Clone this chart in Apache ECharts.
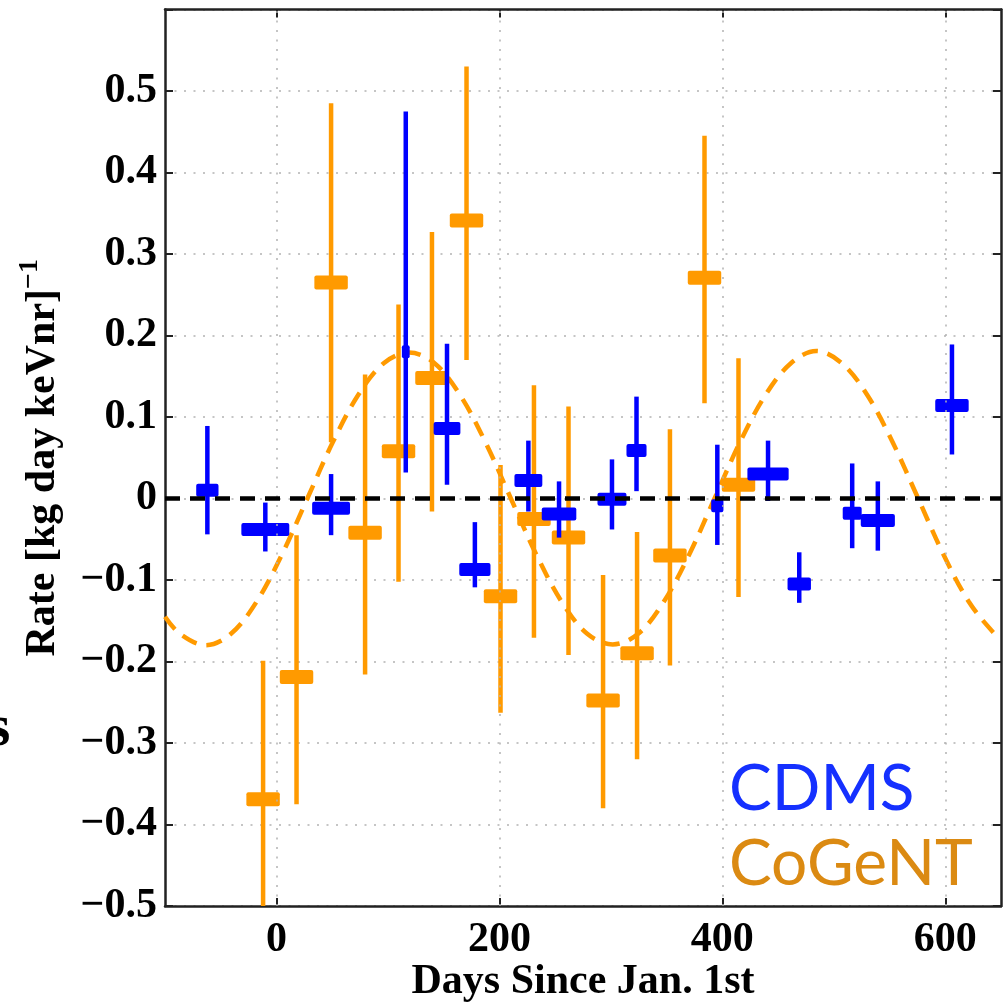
<!DOCTYPE html>
<html>
<head>
<meta charset="utf-8">
<script src="https://cdn.jsdelivr.net/npm/echarts@6/dist/echarts.min.js"></script>
<style>
html,body{margin:0;padding:0;background:#fff;}
#chart{width:1003px;height:1005px;}
</style>
</head>
<body>
<div id="chart"></div>
<script>
// ---- data ----
// CDMS (blue): bin centre (days), rate, lower/upper error, half bin width (days)
const cdmsDays    = [-62, -10, 49, 116, 153, 178, 226, 253.5, 301, 323, 395.5, 441, 469, 516.5, 539.5, 606];
const cdmsRate    = [0.010, -0.038, -0.012, 0.180, 0.086, -0.087, 0.022, -0.019, -0.001, 0.059, -0.009, 0.030, -0.105, -0.018, -0.027, 0.114];
const cdmsLow     = [-0.044, -0.065, -0.045, 0.032, 0.017, -0.109, -0.016, -0.048, -0.038, 0.009, -0.057, -0.003, -0.128, -0.061, -0.064, 0.054];
const cdmsHigh    = [0.089, -0.005, 0.030, 0.475, 0.190, -0.029, 0.071, 0.021, 0.048, 0.125, 0.066, 0.071, -0.066, 0.043, 0.021, 0.189];
const cdmsHalfBin = [10, 21.5, 17, 3.5, 12, 14, 12.5, 15.5, 13, 9, 5.5, 18.5, 10.5, 8.5, 15.3, 15];

// CoGeNT (orange)
const cogentDays    = [-12, 18, 49, 79.5, 109.5, 139.5, 170.5, 201, 231, 262, 293, 323.5, 353, 384, 414.5];
const cogentRate    = [-0.369, -0.219, 0.265, -0.042, 0.058, 0.148, 0.341, -0.120, -0.025, -0.048, -0.248, -0.190, -0.070, 0.271, 0.017];
const cogentLow     = [-0.500, -0.375, 0.069, -0.216, -0.102, -0.016, 0.170, -0.263, -0.171, -0.192, -0.380, -0.320, -0.205, 0.117, -0.121];
const cogentHigh    = [-0.199, -0.045, 0.485, 0.152, 0.238, 0.327, 0.530, 0.041, 0.139, 0.113, -0.094, -0.041, 0.085, 0.445, 0.172];
const cogentHalfBin = [15, 15, 15, 15, 15, 15, 15, 15, 15, 15, 15, 15, 15, 15, 15];

// dashed modulation curve
const curveDays = [-100, -86.5, -63.6, -40.8, -18, 4.8, 27.7, 50.5, 73.3, 96.2, 119, 141.8, 164.7, 187.5, 210.3, 233.2, 256, 278.8, 301.6, 324.5, 347.3, 370.2, 393, 415.8, 438.7, 461.5, 484.3, 507.2, 530, 552.8, 575.7, 598.5, 621.3, 644.2, 650];
const curveRate = [-0.145, -0.166, -0.180, -0.166, -0.127, -0.069, 0.000, 0.069, 0.127, 0.166, 0.179, 0.166, 0.127, 0.069, 0.000, -0.069, -0.127, -0.166, -0.179, -0.166, -0.127, -0.069, 0.000, 0.069, 0.127, 0.166, 0.181, 0.166, 0.127, 0.069, 0.000, -0.069, -0.127, -0.166, -0.171];

// axis ticks
const xTicks = [0, 200, 400, 600];
const xMin = -100, xMax = 650;
const yMin = -0.5, yMax = 0.6, yStep = 0.1;

// ---- chart ----
const SERIF = "'Liberation Serif', 'DejaVu Serif', serif";
const BLUE = '#0000ff';
const ORANGE = '#ff9a00';

function errItem(color, lineW, barH) {
  return function (params, api) {
    const x = api.value(0), y = api.value(1), lo = api.value(2), hi = api.value(3), hw = api.value(4);
    const pHi = api.coord([x, hi]), pLo = api.coord([x, lo]);
    const pL = api.coord([x - hw, y]), pR = api.coord([x + hw, y]);
    return {
      type: 'group',
      children: [
        { type: 'line', shape: { x1: pHi[0], y1: pHi[1], x2: pLo[0], y2: pLo[1] },
          style: { stroke: color, lineWidth: lineW } },
        { type: 'rect', shape: { x: pL[0], y: pL[1] - barH / 2, width: pR[0] - pL[0], height: barH, r: 2 },
          style: { fill: color } }
      ]
    };
  };
}

const cdmsData = cdmsDays.map((d, i) => [d, cdmsRate[i], cdmsLow[i], cdmsHigh[i], cdmsHalfBin[i]]);
const cogentData = cogentDays.map((d, i) => [d, cogentRate[i], cogentLow[i], cogentHigh[i], cogentHalfBin[i]]);
const curveData = curveDays.map((d, i) => [d, curveRate[i]]);

const axisLineStyle = { color: '#222', width: 2.5 };
const gridDots = { color: '#b3b3b3', width: 1.5, type: [2, 7.5] };

const chart = echarts.init(document.getElementById('chart'), null, { renderer: 'canvas' });
chart.setOption({
  animation: false,
  backgroundColor: '#fff',
  grid: { left: 165, right: 2, top: 9.5, bottom: 99, containLabel: false, outerBoundsMode: 'none' },
  xAxis: [
    {
      type: 'value', min: xMin, max: xMax, position: 'bottom',
      axisLine: { show: true, onZero: false, lineStyle: axisLineStyle },
      axisTick: { show: true, inside: true, length: 8, customValues: xTicks, lineStyle: { color: '#222', width: 2 } },
      axisLabel: { customValues: xTicks, margin: 13, color: '#000', fontFamily: SERIF, fontWeight: 'bold', fontSize: 42 },
      splitLine: { show: false },
      name: 'Days Since Jan. 1st', nameLocation: 'middle', nameGap: 55, nameMoveOverlap: false,
      nameTextStyle: { color: '#000', fontFamily: SERIF, fontWeight: 'bold', fontSize: 42 }
    },
    {
      type: 'value', min: xMin, max: xMax, position: 'top',
      axisLine: { show: true, onZero: false, lineStyle: axisLineStyle },
      axisTick: { show: true, inside: true, length: 8, customValues: xTicks, lineStyle: { color: '#222', width: 2 } },
      axisLabel: { show: false },
      splitLine: { show: false }
    }
  ],
  yAxis: [
    {
      type: 'value', min: yMin, max: yMax, interval: yStep, position: 'left',
      axisLine: { show: true, onZero: false, lineStyle: axisLineStyle },
      axisTick: { show: true, inside: true, length: 8, lineStyle: { color: '#222', width: 2 } },
      axisLabel: {
        margin: 8, color: '#000', fontFamily: SERIF, fontWeight: 'bold', fontSize: 42,
        formatter: function (v) {
          if (Math.abs(v - yMax) < 1e-6) return '';
          if (Math.abs(v) < 1e-9) return '0';
          return (v < 0 ? '\u2212' : '') + Math.abs(v).toFixed(1);
        }
      },
      splitLine: { show: true, lineStyle: gridDots },
      name: 'Rate [kg day keVnr]{sup|\u22121}', nameLocation: 'middle', nameGap: 94, nameMoveOverlap: false,
      nameTextStyle: {
        color: '#000', fontFamily: SERIF, fontWeight: 'bold', fontSize: 42, verticalAlign: 'bottom',
        rich: {
          sup: { color: '#000', fontFamily: SERIF, fontWeight: 'bold', fontSize: 28, verticalAlign: 'bottom', padding: [0, 0, 27, 0] }
        }
      }
    },
    {
      type: 'value', min: yMin, max: yMax, interval: yStep, position: 'right',
      axisLine: { show: true, onZero: false, lineStyle: axisLineStyle },
      axisTick: { show: true, inside: true, length: 8, lineStyle: { color: '#222', width: 2 } },
      axisLabel: { show: false },
      splitLine: { show: false }
    }
  ],
  series: [
    {
      type: 'line', data: curveData, smooth: 0.35, symbol: 'none', z: 2,
      lineStyle: { color: ORANGE, width: 4.5, type: [16, 10] },
      markLine: {
        silent: true, symbol: ['none', 'none'], label: { show: false }, animation: false,
        data: xTicks.map(v => ({ xAxis: v, lineStyle: gridDots }))
          .concat([{ yAxis: 0, lineStyle: { color: '#000', width: 4.5, type: [15, 10] } }])
      }
    },
    {
      type: 'custom', name: 'CoGeNT', data: cogentData, z: 3,
      renderItem: errItem(ORANGE, 4.5, 14),
      encode: { x: 0, y: 1 }
    },
    {
      type: 'custom', name: 'CDMS', data: cdmsData, z: 4,
      renderItem: errItem(BLUE, 4.5, 13),
      encode: { x: 0, y: 1 }
    }
  ],
  graphic: [
    { type: 'text', x: 729, y: 789, z: 10,
      style: { text: 'CDMS', fill: '#1530ff', font: '64px Lato', verticalAlign: 'middle', align: 'left' } },
    { type: 'text', x: 729, y: 864, z: 10,
      style: { text: 'CoGeNT', fill: '#db8a12', font: '64px Lato', verticalAlign: 'middle', align: 'left' } },
    { type: 'text', x: -13, y: 729, z: 10,
      style: { text: 's', fill: '#000', font: "bold 60px 'Liberation Serif'", verticalAlign: 'middle', align: 'left' } }
  ]
});
</script>
</body>
</html>
